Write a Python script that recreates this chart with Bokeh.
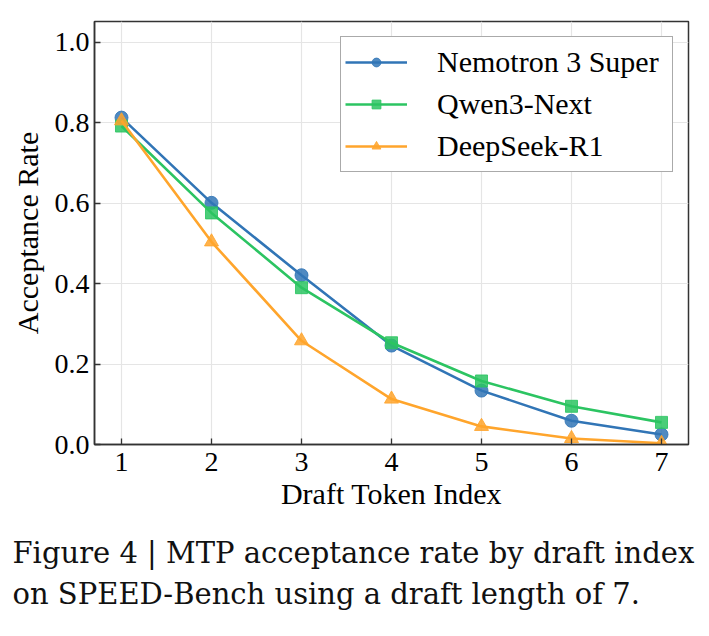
from bokeh.plotting import figure
from bokeh.models import Range1d, Legend, LegendItem, FixedTicker, CustomJSTickFormatter, Title
from bokeh.embed import file_html
from bokeh.resources import INLINE

# ---- data ----
draft_index = [1, 2, 3, 4, 5, 6, 7]
nemotron = [0.813, 0.601, 0.421, 0.246, 0.134, 0.059, 0.025]
qwen = [0.792, 0.576, 0.390, 0.253, 0.158, 0.095, 0.055]
deepseek = [0.805, 0.504, 0.258, 0.113, 0.045, 0.015, 0.003]
series_names = ["Nemotron 3 Super", "Qwen3-Next", "DeepSeek-R1"]
y_ticks = [0.0, 0.2, 0.4, 0.6, 0.8, 1.0]
caption_lines = ["Figure 4 | MTP acceptance rate by draft index",
                 "on SPEED-Bench using a draft length of 7."]

colors = ["#3175b6", "#2cc462", "#ffa52c"]
markers = ["circle", "square", "triangle"]
msizes = [13, 12, 14]

SERIF = "Liberation Serif"
CAP_FONT = "DejaVu Serif"

p = figure(width=709, height=636, output_backend="svg", toolbar_location=None,
           x_range=Range1d(0.7, 7.3), y_range=Range1d(0.0, 1.052),
           min_border_left=94, min_border_right=21, min_border_top=21,
           min_border_bottom=190)
p.background_fill_color = "white"
p.border_fill_color = "white"
p.outline_line_color = "#333333"
p.outline_line_width = 1.5

for ax in (p.xaxis[0], p.yaxis[0]):
    ax.major_tick_in = 6
    ax.major_tick_out = 0
    ax.minor_tick_in = 0
    ax.minor_tick_out = 0
    ax.axis_line_color = "#333333"
    ax.axis_line_width = 1.5
    ax.major_tick_line_color = "#333333"
    ax.major_tick_line_width = 1.3
    ax.major_label_text_font = SERIF
    ax.major_label_text_font_size = "28px"
    ax.major_label_text_color = "black"
    ax.axis_label_text_font = SERIF
    ax.axis_label_text_font_size = "30px"
    ax.axis_label_text_font_style = "normal"
    ax.axis_label_text_color = "black"

p.xaxis.ticker = FixedTicker(ticks=draft_index)
p.yaxis.ticker = FixedTicker(ticks=y_ticks)
p.yaxis.formatter = CustomJSTickFormatter(code="return tick.toFixed(1);")
p.xaxis.axis_label = "Draft Token Index"
p.yaxis.axis_label = "Acceptance Rate"
p.xaxis.major_label_standoff = 8
p.yaxis.major_label_standoff = 5
p.xaxis.axis_label_standoff = 3
p.yaxis.axis_label_standoff = 8

p.xgrid.ticker = FixedTicker(ticks=draft_index)
p.ygrid.ticker = FixedTicker(ticks=y_ticks)
p.grid.grid_line_color = "#e5e5e5"
p.grid.grid_line_width = 1.2

items = []
for name, ys, c, m, s in zip(series_names, [nemotron, qwen, deepseek], colors, markers, msizes):
    ln = p.line(draft_index, ys, line_color=c, line_width=2.6)
    sc = p.scatter(draft_index, ys, marker=m, size=s, fill_color=c, line_color=c,
                   fill_alpha=0.85, line_alpha=0.85)
    items.append(LegendItem(label=name, renderers=[ln, sc]))

legend = Legend(items=items, location="top_right")
legend.margin = 15
legend.padding = 4
legend.spacing = 0
legend.glyph_width = 62
legend.glyph_height = 22
legend.label_height = 42
legend.label_standoff = 30
legend.label_text_font = SERIF
legend.label_text_font_size = "30px"
legend.label_text_color = "black"
legend.border_line_color = "#555555"
legend.border_line_width = 1.2
legend.background_fill_alpha = 1.0
legend.label_width = 231
p.add_layout(legend, "center")

# ---- caption (a below-title, left aligned to the figure edge) ----
caption = Title(text="\n".join(caption_lines), align="left", offset=-82,
                text_font=CAP_FONT, text_font_size="29px", text_font_style="normal",
                text_color="#111111", text_line_height=1.2, standoff=47,
                vertical_align="top")
p.add_layout(caption, "below")

open("out.html", "w").write(file_html(p, INLINE))
